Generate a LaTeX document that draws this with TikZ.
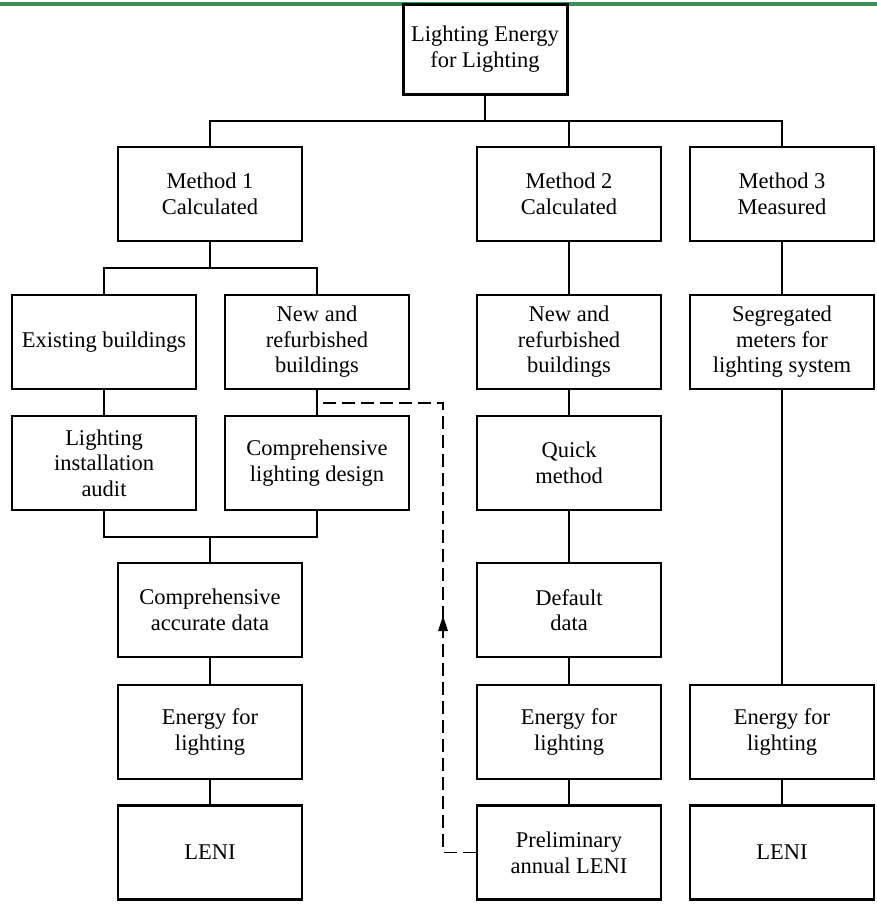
\documentclass[tikz,border=0pt]{standalone}
\usepackage{fontspec}
\setmainfont{Liberation Serif}
\usetikzlibrary{arrows.meta}
\definecolor{topgreen}{HTML}{3E8E57}
\tikzset{
  box/.style={draw, line width=2.8pt, align=center, inner sep=0pt, font=\fontsize{22.5}{25.6}\selectfont, minimum width=184pt, minimum height=94pt},
  topbox/.style={box, line width=3pt, minimum width=164pt, minimum height=90pt},
  conn/.style={line width=1.5pt},
  dashconn/.style={line width=1.7pt, dash pattern=on 13pt off 6pt},
}
\begin{document}
\begin{tikzpicture}[x=1pt,y=-1pt]
\useasboundingbox (0,0) rectangle (877,911);
\draw[topgreen, line width=3.5pt] (0,4) -- (877,4);
% top
\node[topbox] (top) at (485,49) {Lighting Energy\\for Lighting};
% methods
\node[box] (m1) at (210,194) {Method 1\\Calculated};
\node[box] (m2) at (569,194) {Method 2\\Calculated};
\node[box] (m3) at (782,194) {Method 3\\Measured};
% row 2
\node[box] (exist) at (104,342) {Existing buildings};
\node[box] (newl) at (317,342) {New and\\refurbished\\buildings};
\node[box] (newm) at (569,342) {New and\\refurbished\\buildings};
\node[box] (seg) at (782,342) {Segregated\\meters for\\lighting system};
% row 3
\node[box] (audit) at (104,463) {Lighting\\installation\\audit};
\node[box] (design) at (317,463) {Comprehensive\\lighting design};
\node[box] (quick) at (569,463) {Quick\\method};
% row 4
\node[box] (accdata) at (210,610) {Comprehensive\\accurate data};
\node[box] (defdata) at (569,610) {Default\\data};
% energy
\node[box] (e1) at (210,732) {Energy for\\lighting};
\node[box] (e2) at (569,732) {Energy for\\lighting};
\node[box] (e3) at (782,732) {Energy for\\lighting};
% LENI
\node[box] (l1) at (210,852.5) {LENI};
\node[box] (l2) at (569,852.5) {Preliminary\\annual LENI};
\node[box] (l3) at (782,852.5) {LENI};
% connectors
\coordinate (hj) at (485,121);
\draw[conn] (top.south) -- (hj);
\draw[conn] (m1.north) |- (hj) -| (m3.north);
\draw[conn] (hj) -| (m2.north);
\coordinate (m1j) at (210,268);
\draw[conn] (m1.south) -- (m1j);
\draw[conn] (exist.north) |- (m1j) -| (newl.north);
\draw[conn] (m2.south) -- (newm.north);
\draw[conn] (m3.south) -- (seg.north);
\draw[conn] (exist.south) -- (audit.north);
\draw[conn] (newl.south) -- (design.north);
\draw[conn] (newm.south) -- (quick.north);
\coordinate (bj) at (210,537);
\draw[conn] (audit.south) |- (bj) -| (design.south);
\draw[conn] (bj) -- (accdata.north);
\draw[conn] (quick.south) -- (defdata.north);
\draw[conn] (seg.south) -- (e3.north);
\draw[conn] (accdata.south) -- (e1.north);
\draw[conn] (defdata.south) -- (e2.north);
\draw[conn] (e1.south) -- (l1.north);
\draw[conn] (e2.south) -- (l2.north);
\draw[conn] (e3.south) -- (l3.north);
% dashed feedback
\coordinate (fbj) at (317,403);
\coordinate (fbc) at (443,852.5);
\coordinate (fbt) at (443,403);
\draw[dashconn] (l2.west) -- (fbc) -- (fbt) -- (fbj);
\fill (443,616) -- (448,631) -- (438,631) -- cycle;
\end{tikzpicture}
\end{document}
